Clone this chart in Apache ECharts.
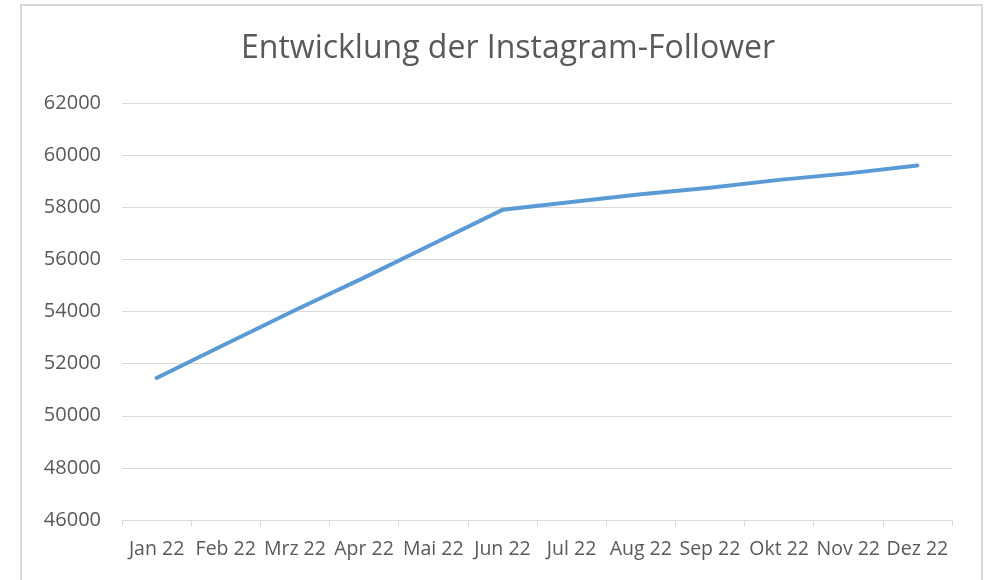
<!DOCTYPE html>
<html>
<head>
<meta charset="utf-8">
<script src="https://cdn.jsdelivr.net/npm/echarts@6/dist/echarts.min.js"></script>
<style>
  html, body { margin: 0; padding: 0; background: #fff; }
  #chart { width: 987px; height: 580px; }
</style>
</head>
<body>
<div id="chart"></div>
<script>
var months = ['Jan 22', 'Feb 22', 'Mrz 22', 'Apr 22', 'Mai 22', 'Jun 22',
              'Jul 22', 'Aug 22', 'Sep 22', 'Okt 22', 'Nov 22', 'Dez 22'];
var followers = [51450, 52750, 54050, 55300, 56600, 57900,
                 58200, 58500, 58750, 59050, 59300, 59600];
var yMin = 46000, yMax = 62000, yStep = 2000;

var textGrey = '#595959';
var lineGrey = '#d9d9d9';

var myChart = echarts.init(document.getElementById('chart'));
myChart.setOption({
    animation: false,
    graphic: [{
        type: 'rect',
        shape: { x: 21, y: 5, width: 961, height: 620 },
        style: { fill: 'none', stroke: lineGrey, lineWidth: 2 },
        silent: true
    }],
    title: {
        text: 'Entwicklung der Instagram-Follower',
        left: 503,
        top: 28,
        textAlign: 'center',
        textStyle: {
            fontFamily: 'Open Sans',
            fontWeight: 'normal',
            fontSize: 32,
            color: textGrey
        }
    },
    grid: { left: 122, right: 35, top: 103, bottom: 60 },
    xAxis: {
        type: 'category',
        data: months,
        boundaryGap: true,
        axisLine: { lineStyle: { color: lineGrey, width: 1 } },
        axisTick: { show: true, length: 6, lineStyle: { color: lineGrey } },
        axisLabel: {
            interval: 0,
            margin: 19,
            fontFamily: 'Open Sans',
            fontSize: 19.5,
            color: textGrey
        }
    },
    yAxis: {
        type: 'value',
        min: yMin,
        max: yMax,
        interval: yStep,
        axisLine: { show: false },
        axisTick: { show: false },
        splitLine: { lineStyle: { color: lineGrey, width: 1 } },
        axisLabel: {
            margin: 21,
            fontFamily: 'Open Sans',
            fontSize: 20,
            color: textGrey,
            formatter: function (v) { return String(v); }
        }
    },
    series: [{
        name: 'Follower',
        type: 'line',
        data: followers,
        showSymbol: false,
        symbol: 'none',
        lineStyle: { color: '#5b9bd5', width: 4, cap: 'round', join: 'round' }
    }]
});
</script>
</body>
</html>
